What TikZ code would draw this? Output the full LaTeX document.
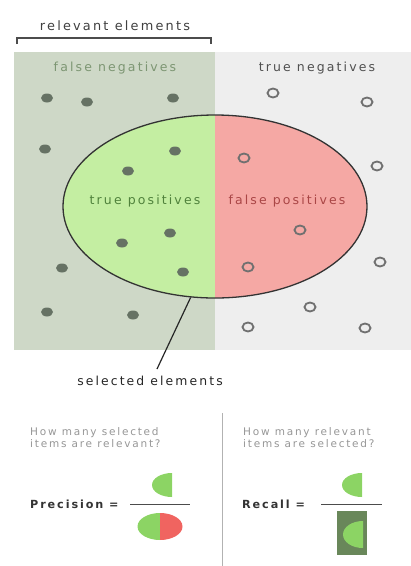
\documentclass[tikz,border=0pt]{standalone}
\usepackage{fontspec}
\setmainfont{DejaVu Sans}[LetterSpace=17]
\usetikzlibrary{calc,shapes.geometric}

\definecolor{fnbg}{RGB}{206,216,199}
\definecolor{tnbg}{RGB}{238,238,238}
\definecolor{tpfill}{RGB}{196,238,162}
\definecolor{fpfill}{RGB}{245,168,164}
\definecolor{dotc}{RGB}{102,114,100}
\definecolor{ringc}{RGB}{112,112,112}
\definecolor{fntext}{RGB}{125,150,115}
\definecolor{tntext}{RGB}{80,80,80}
\definecolor{tptext}{RGB}{80,130,60}
\definecolor{fptext}{RGB}{170,70,70}
\definecolor{qtext}{RGB}{150,150,150}
\definecolor{iconG}{RGB}{140,212,100}
\definecolor{iconR}{RGB}{240,100,96}
\definecolor{iconD}{RGB}{105,135,90}

\tikzset{
  lbl/.style={inner sep=0pt, anchor=center},
  reldot/.style={fill=dotc, draw=none},
  irrdot/.style={draw=ringc, line width=1.8pt, fill=none},
  question/.style={inner sep=0pt, anchor=north west, align=left, text=qtext,
    font=\fontsize{10.5}{12}\selectfont},
  formula/.style={inner sep=0pt, anchor=west, text=black!80,
    font=\fontsize{11.2}{12}\selectfont\bfseries},
}

\begin{document}
\begin{tikzpicture}[x=1pt, y=-1pt]
\useasboundingbox (0,0) rectangle (411,566);

% the two halves of the population
\fill[fnbg] (14,52) rectangle (215,350);
\fill[tnbg] (215,52) rectangle (411,350);

% the selection, split into true and false positives
\begin{scope}
  \clip (215,206.5) ellipse [x radius=152, y radius=91.5];
  \fill[tpfill] (60,110) rectangle (215,300);
  \fill[fpfill] (215,110) rectangle (370,300);
\end{scope}
\node[ellipse, draw=black!80, line width=1.3pt, minimum width=304pt,
      minimum height=183pt, inner sep=0pt] (sel) at (215,206.5) {};

% bracket over the relevant elements
\node[lbl, font=\fontsize{12.9}{14}\selectfont, text=black!75] (rel) at (115,26) {relevant elements};
\coordinate (bl) at (17,44);
\coordinate (br) at (211,44);
\draw[black!70, line width=1.2pt] (bl) -- ++(0,-6) -| (br);

% region labels
\node[lbl, font=\fontsize{12.5}{14}\selectfont, text=fntext] (fn) at (115,68) {false negatives};
\node[lbl, font=\fontsize{12.5}{14}\selectfont, text=tntext] (tn) at (317,68) {true negatives};
\node[lbl, font=\fontsize{12.5}{14}\selectfont, text=tptext] (tp) at (145,201) {true positives};
\node[lbl, font=\fontsize{12.5}{14}\selectfont, text=fptext] (fp) at (287,201) {false positives};

% relevant elements (filled dots)
\foreach \px/\py in {47/98, 87/102, 173/98, 45/149, 175/151, 128/171,
                     170/233, 122/243, 183/272, 62/268, 47/312, 133/315}
  \fill[reldot] (\px,\py) ellipse [x radius=6, y radius=4.5];

% irrelevant elements (open rings)
\foreach \px/\py in {273/93, 367/102, 244/158, 377/166, 300/230, 248/267,
                     380/262, 310/307, 248/327, 365/328}
  \draw[irrdot] (\px,\py) ellipse [x radius=5.5, y radius=4.5];

% pointer to the selection
\node[lbl, font=\fontsize{12.4}{14}\selectfont, text=black!85] (sl) at (150,381) {selected elements};
\coordinate (ptr) at (157,369);
\draw[black!85, line width=1.2pt] (sel.255) -- (ptr);

% divider between the two measures
\coordinate (dtop) at (222,413);
\coordinate (dbot) at (222,566);
\draw[black!30, line width=1pt] (dtop) -- (dbot);

% precision
\node[question] (q1) at (30,427) {How many selected\\items are relevant?};
\node[formula] (prec) at (30,504) {Precision =};
\coordinate (pl) at (130,504);
\coordinate (pr) at (190,504);
\draw[black!70, line width=1pt] (pl) -- (pr);
\fill[iconG] (172,497) arc[start angle=90, end angle=270, x radius=20, y radius=12] -- cycle;
\begin{scope}
  \clip (160,526.5) ellipse [x radius=22.5, y radius=13.5];
  \fill[iconG] (137,512) rectangle (160,541);
  \fill[iconR] (160,512) rectangle (184,541);
\end{scope}

% recall
\node[question] (q2) at (243,427) {How many relevant\\items are selected?};
\node[formula] (rec) at (242,504) {Recall =};
\coordinate (rl) at (321,504);
\coordinate (rr) at (382,504);
\draw[black!70, line width=1pt] (rl) -- (rr);
\fill[iconG] (362,497) arc[start angle=90, end angle=270, x radius=20, y radius=12] -- cycle;
\fill[iconD] (337,511) rectangle (367,555);
\fill[iconG] (363,548) arc[start angle=90, end angle=270, x radius=20, y radius=13.5] -- cycle;
\end{tikzpicture}
\end{document}
